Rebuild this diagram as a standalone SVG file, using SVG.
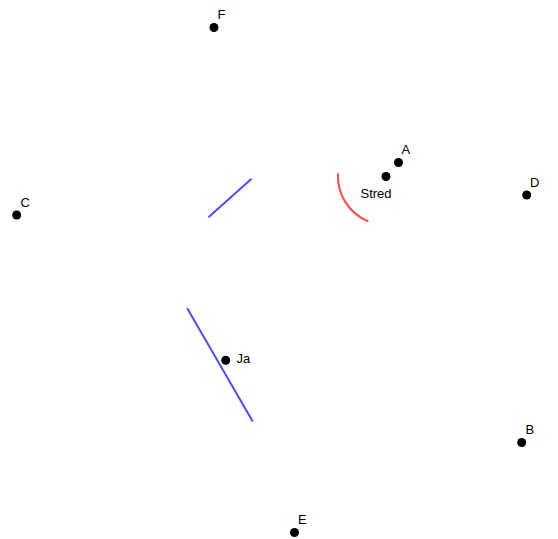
<svg xmlns="http://www.w3.org/2000/svg" width="558" height="539" viewBox="0 0 558 539">
<style>
.pt{fill:#000}
.lbl{font-family:"Liberation Sans",Arial,sans-serif;font-size:13px;fill:#000}
.blue{stroke:#4d4dff;stroke-width:2;fill:none;stroke-linecap:round}
.red{stroke:#ff4d4d;stroke-width:2;fill:none;stroke-linecap:round}
</style>
<rect width="558" height="539" fill="#fff"/>
<g id="connectors">
<line class="blue" x1="209" y1="216.7" x2="251" y2="179.3"/>
<line class="blue" x1="187.5" y1="308.7" x2="252.3" y2="420.7"/>
<path class="red" d="M 338 174 A 48.5 48.5 0 0 0 367.5 221"/>
</g>
<g id="A"><circle class="pt" cx="398.5" cy="162.5" r="4.5"/><text class="lbl" x="401.5" y="154">A</text></g>
<g id="Stred"><circle class="pt" cx="386" cy="176.5" r="4.5"/><text class="lbl" x="360.5" y="198">Stred</text></g>
<g id="Ja"><circle class="pt" cx="225.7" cy="360.3" r="4.5"/><text class="lbl" x="236.5" y="363">Ja</text></g>
<g id="C"><circle class="pt" cx="16.7" cy="215" r="4.5"/><text class="lbl" x="20.5" y="206.5">C</text></g>
<g id="F"><circle class="pt" cx="214" cy="27.5" r="4.5"/><text class="lbl" x="217.5" y="19">F</text></g>
<g id="D"><circle class="pt" cx="526.7" cy="195" r="4.5"/><text class="lbl" x="530" y="186.5">D</text></g>
<g id="B"><circle class="pt" cx="521.7" cy="442.5" r="4.5"/><text class="lbl" x="525.5" y="434">B</text></g>
<g id="E"><circle class="pt" cx="294.5" cy="532.5" r="4.5"/><text class="lbl" x="298" y="524">E</text></g>
</svg>
